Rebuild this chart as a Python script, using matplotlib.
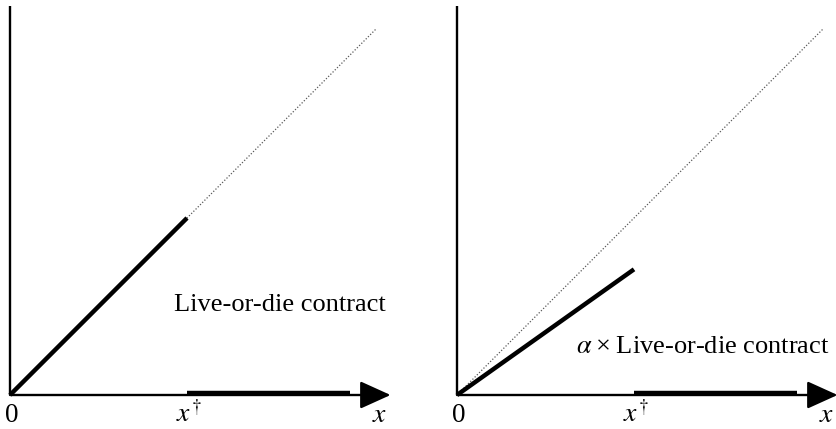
import matplotlib

matplotlib.use("Agg")

import matplotlib.pyplot as plt
from matplotlib.patches import FancyArrowPatch

plt.rcParams["font.family"] = ["Liberation Serif", "DejaVu Serif"]
plt.rcParams["mathtext.fontset"] = "stix"

# payoff schedules, x measured in units of x-dagger
x_dagger = 1.0
x_cap = 1.92          # right end of the flat segment
diag_end = 2.07       # 45-degree reference line
slopes = [1.0, 0.71]  # live-or-die, alpha x live-or-die
captions = ["Live-or-die contract", r"$\alpha$" + "\u2009×\u2009Live-or-die contract"]
caption_xy = [(0.925, 0.475), (0.675, 0.237)]

W, H = 837, 429
origins_px = [(10, 395), (457, 395)]
scale_px = 177.0
x_top = 2.14
y_top = 2.14
label_y = -0.153

fig = plt.figure(figsize=(W / 100, H / 100), dpi=100)

for (ox, oy), slope, text, (tx, ty) in zip(origins_px, slopes, captions, caption_xy):
    left = ox / W
    bottom = (H - oy) / H
    ax = fig.add_axes([left, bottom, x_top * scale_px / W, y_top * scale_px / H])
    ax.set_xlim(0, x_top)
    ax.set_ylim(0, y_top)
    ax.axis("off")

    # vertical axis
    ax.plot([0, 0], [0, 2.2], color="black", lw=1.7, solid_capstyle="butt", clip_on=False)
    # horizontal axis with arrow head
    arrow = FancyArrowPatch((0, 0), (x_top + 0.01, 0),
                            arrowstyle="-|>,head_length=0.95,head_width=0.43",
                            mutation_scale=20, lw=1.7, color="black",
                            shrinkA=0, shrinkB=0, clip_on=False)
    ax.add_patch(arrow)

    # 45-degree reference
    ax.plot([0, diag_end], [0, diag_end], color="0.35", lw=0.9,
            linestyle=(0, (1, 1.5)), clip_on=False)
    # contract payoff
    ax.plot([0, x_dagger], [0, slope * x_dagger], color="black", lw=3.2,
            solid_capstyle="butt", clip_on=False)
    ax.plot([x_dagger, x_cap], [0.01, 0.01], color="black", lw=3.2,
            solid_capstyle="butt", clip_on=False)

    ax.text(tx, ty, text, fontsize=19, ha="left", va="baseline")
    ax.text(-0.03, label_y, "0", fontsize=19.5, ha="left", va="baseline")
    ax.text(x_dagger + 0.01, label_y, r"$x^{\!\dagger}$", fontsize=20, ha="center", va="baseline")
    ax.text(2.09, label_y, r"$x$", fontsize=20, ha="center", va="baseline")

fig.savefig("out.png", dpi=100)
